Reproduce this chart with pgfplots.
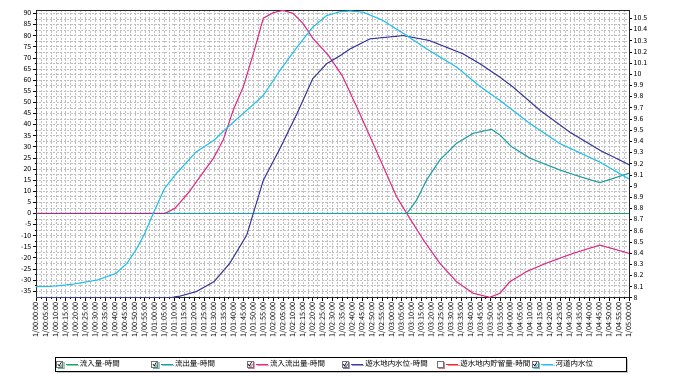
\documentclass[border=0pt]{standalone}
\usepackage{fontspec}
\setmainfont{Noto Sans CJK JP}
\usepackage{pgfplots}
\pgfplotsset{compat=1.18}
\usetikzlibrary{shadows}
\definecolor{cGreen}{HTML}{18A860}
\definecolor{cTeal}{HTML}{1E9EA6}
\definecolor{cMag}{HTML}{E02C88}
\definecolor{cPur}{HTML}{A03088}
\definecolor{cNavy}{HTML}{3C3C9C}
\definecolor{cCyan}{HTML}{20C0F0}
\definecolor{cRed}{HTML}{F02828}
\definecolor{cTitle}{HTML}{4A4AA8}
\pgfplotsset{
  chk/.style={legend image code/.code={
     \draw[black!55,solid,line width=0.4pt,fill=white] (0bp,-3bp) rectangle (6bp,3bp);
     \draw[black,solid,line width=0.6pt] (1.2bp,0.2bp) -- (2.6bp,-1.6bp) -- (4.8bp,2bp);
     \draw[##1] (9bp,0bp) -- (21bp,0bp);}},
  unchk/.style={legend image code/.code={
     \draw[black!55,solid,line width=0.4pt,fill=white] (0bp,-3bp) rectangle (6bp,3bp);
     \draw[##1] (9bp,0bp) -- (21bp,0bp);}},
  basestyle/.style={
    at={(36bp,78.3bp)}, anchor=south west, scale only axis,
    width=593bp, height=287.7bp,
    xmin=0, xmax=300,
    tick align=outside,
    major tick length=3bp, minor tick length=1.5bp,
    tick style={black, line width=0.5pt},
    axis line style={black!85, line width=1pt},
    /pgf/number format/assume math mode=true,
    yticklabel style={font=\fontsize{7}{8}\selectfont, inner sep=1.5pt},
  }
}
\begin{document}
\begin{tikzpicture}
\useasboundingbox (0,0) rectangle (698bp,376bp);
\begin{axis}[basestyle,
  ymin=-37.98, ymax=91.49,
  xtick={0,5,...,300},
  xticklabels={1/00:00:00,1/00:05:00,1/00:10:00,1/00:15:00,1/00:20:00,1/00:25:00,1/00:30:00,1/00:35:00,1/00:40:00,1/00:45:00,1/00:50:00,1/00:55:00,
  1/01:00:00,1/01:05:00,1/01:10:00,1/01:15:00,1/01:20:00,1/01:25:00,1/01:30:00,1/01:35:00,1/01:40:00,1/01:45:00,1/01:50:00,1/01:55:00,
  1/02:00:00,1/02:05:00,1/02:10:00,1/02:15:00,1/02:20:00,1/02:25:00,1/02:30:00,1/02:35:00,1/02:40:00,1/02:45:00,1/02:50:00,1/02:55:00,
  1/03:00:00,1/03:05:00,1/03:10:00,1/03:15:00,1/03:20:00,1/03:25:00,1/03:30:00,1/03:35:00,1/03:40:00,1/03:45:00,1/03:50:00,1/03:55:00,
  1/04:00:00,1/04:05:00,1/04:10:00,1/04:15:00,1/04:20:00,1/04:25:00,1/04:30:00,1/04:35:00,1/04:40:00,1/04:45:00,1/04:50:00,1/04:55:00,
  1/05:00:00},
  ytick={-35,-30,...,90},
  minor x tick num=1, minor y tick num=1,
  grid=both,
  major grid style={gray!50, dash pattern=on 2pt off 1.5pt, line width=0.4pt},
  minor grid style={gray!50, dash pattern=on 2pt off 1.5pt, line width=0.4pt},
  xtick pos=left, ytick pos=left,
  xticklabel style={rotate=90, anchor=east, font=\fontsize{7.3}{8}\selectfont, inner sep=1.5pt},
]
\addplot[cGreen, line width=1.1pt] coordinates {(0,0) (300,0)};
\addplot[cTeal, line width=1.1pt] coordinates {
(0,0) (187.5,0) (189,1.5) (192.6,6) (197.6,15) (204.3,24) (212.8,31.5) (221.2,36) (230.5,37.8)
(234.7,35.2) (240.6,30) (249.9,24.8) (265,19.5) (275.2,16.5) (285.3,13.8) (300,18)};
\addplot[cMag, line width=1.1pt] coordinates {
(0,0) (65.3,0) (70.3,2.25) (72.8,4.8) (77.5,9.7) (83,16.5) (89.7,24.7) (94.7,33) (99.8,46.5)
(104.9,57) (110,72) (115,87.8) (120,90.3) (125,91.3) (130,90) (135,85.5) (140,78.8) (148,71)
(155,61.8) (162.2,48) (169,34.5) (175.7,21) (182.4,7.5) (187.5,0) (196,-12) (204.3,-22.5)
(212.8,-30.8) (221.2,-36) (229.6,-37.8) (234.7,-36) (239.7,-30.8) (248,-26.3) (258,-22.5)
(271.8,-18) (285.3,-14.3) (300,-18)};
\node[rotate=90, font=\fontsize{7}{8}\selectfont] at (axis description cs:-0.0355,0.628) {流出/流入量(m\textasciicircum 3/sec)};
\node[font=\fontsize{7.5}{8}\selectfont] at (axis description cs:0.498,-0.1505) {時間(日数/時：分：秒)};
\node[font=\fontsize{7.5}{8}\selectfont, text=cTitle] at (axis description cs:0.5,1.024) {遊水地};
\end{axis}
\begin{axis}[basestyle,
  ymin=8, ymax=10.574,
  axis y line*=right, hide x axis,
  ytick={8,8.1,8.2,8.3,8.4,8.5,8.6,8.7,8.8,8.9,9,9.1,9.2,9.3,9.4,9.5,9.6,9.7,9.8,9.9,10,10.1,10.2,10.3,10.4,10.5},
  yticklabel style={/pgf/number format/fixed},
  legend columns=6,
  legend cell align=left,
  legend style={at={(axis description cs:0.032,-0.206)}, anchor=north west,
    draw=black, line width=0.8pt, fill=white, inner sep=1pt,
    font=\fontsize{7.5}{8}\selectfont,
    drop shadow={shadow xshift=1.5pt, shadow yshift=-1.5pt, fill=black!45},
    /tikz/every even column/.append style={column sep=2bp}},
]
% zero-level stretches of the three flow series (left-axis 0 = right-axis 8.7551)
\addplot[cGreen, line width=1.4pt, forget plot] coordinates {(187.5,8.7551) (300,8.7551)};
\addplot[cTeal, line width=1.4pt, forget plot] coordinates {(65.3,8.7551) (187.5,8.7551)};
\addplot[cPur, line width=1.4pt, forget plot] coordinates {(0,8.7551) (65.3,8.7551)};
\addlegendimage{chk, cGreen, line width=0.8pt}
\addlegendentry{\makebox[67.5bp][l]{流入量-時間}}
\addlegendimage{chk, cTeal, line width=0.8pt}
\addlegendentry{\makebox[67.5bp][l]{流出量-時間}}
\addlegendimage{chk, cMag, line width=0.8pt}
\addlegendentry{\makebox[67.5bp][l]{流入流出量-時間}}
\addplot[chk, cNavy, line width=1.1pt] coordinates {
(0,8) (68,8) (73,8.015) (81,8.054) (90,8.143) (98,8.307) (106.6,8.56) (115,9.051) (123.4,9.334)
(132,9.646) (140,9.959) (147,10.093) (154,10.167) (159,10.227) (169,10.316) (185.8,10.345)
(199,10.301) (216,10.182) (224.6,10.093) (229.6,10.033) (234.7,9.973) (241.4,9.884) (255,9.676)
(270,9.482) (285.3,9.319) (300,9.19)};
\addlegendentry{\makebox[67.5bp][l]{遊水地内水位-時間}}
\addlegendimage{unchk, cRed, line width=0.8pt}
\addlegendentry{\makebox[67.5bp][l]{遊水地内貯留量-時間}}
\addplot[chk, cCyan, line width=1.1pt] coordinates {
(0,8.098) (10,8.104) (19,8.122) (31,8.158) (40.5,8.218) (46,8.307) (51,8.441) (55,8.575)
(59.3,8.754) (65,8.977) (71,9.111) (77.5,9.236) (81,9.304) (90,9.408) (98,9.542) (106.6,9.676)
(115,9.810) (123.4,10.033) (132,10.241) (140,10.420) (147,10.524) (154,10.560) (159,10.565)
(165.6,10.554) (175.7,10.479) (187.5,10.345) (199,10.211) (212.8,10.063) (224.6,9.890)
(234.7,9.765) (250,9.557) (265,9.379) (285.2,9.214) (300,9.062)};
\addlegendentry{\makebox[67.5bp][l]{河道内水位}}
\node[rotate=-90, font=\fontsize{7}{8}\selectfont] at (axis description cs:1.0507,0.501) {遊水地内水位(m)};
\end{axis}
\end{tikzpicture}
\end{document}
